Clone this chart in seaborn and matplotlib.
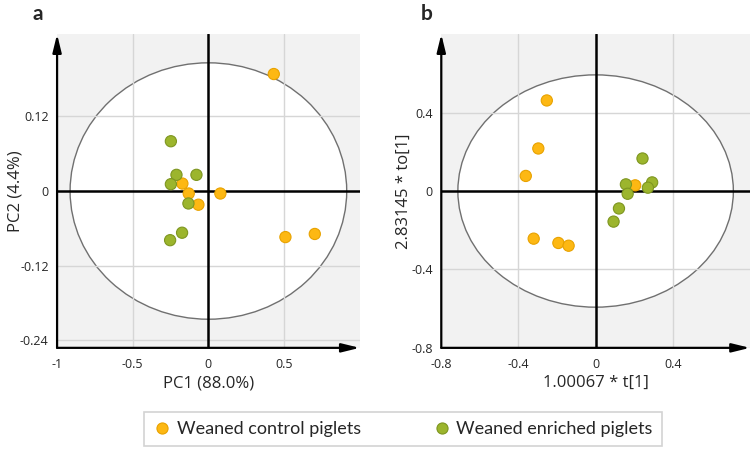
"""
PCA / OPLS-DA score plots for weaned piglets (panel a and b)
"""

import numpy as np
import pandas as pd
import matplotlib

matplotlib.use("Agg")
import matplotlib.pyplot as plt
import seaborn as sns
from matplotlib.patches import Ellipse
from matplotlib.lines import Line2D
from matplotlib.ticker import MultipleLocator

# Groups
GROUPS = ["Weaned control piglets", "Weaned enriched piglets"]
COLORS = {"Weaned control piglets": "#FDB813", "Weaned enriched piglets": "#9CB52D"}
EDGES = {"Weaned control piglets": "#E8A200", "Weaned enriched piglets": "#7E9620"}

# Panel a: PCA scores
pca_control_x = [0.432, -0.172, -0.130, -0.066, 0.079, 0.509, 0.703]
pca_control_y = [0.188, 0.012, -0.004, -0.022, -0.004, -0.074, -0.069]
pca_enriched_x = [-0.248, -0.211, -0.079, -0.248, -0.132, -0.174, -0.253]
pca_enriched_y = [0.080, 0.026, 0.026, 0.011, -0.020, -0.067, -0.079]

# Panel b: OPLS-DA scores
opls_control_x = [-0.253, -0.297, -0.362, -0.321, -0.193, -0.140, 0.205]
opls_control_y = [0.462, 0.217, 0.077, -0.243, -0.265, -0.279, 0.029]
opls_enriched_x = [0.243, 0.157, 0.293, 0.271, 0.166, 0.121, 0.093]
opls_enriched_y = [0.166, 0.034, 0.044, 0.017, -0.014, -0.089, -0.156]

# Hotelling T2 ellipse sizes (width, height)
ellipse_a = (1.828, 0.412)
ellipse_b = (1.428, 1.185)


def make_df(cx, cy, ex, ey):
    return pd.DataFrame(
        {
            "x": cx + ex,
            "y": cy + ey,
            "group": [GROUPS[0]] * len(cx) + [GROUPS[1]] * len(ex),
        }
    )


def draw_panel(ax, df, ell, xlim, ylim, xmaj, ymaj, xticks, yticks, xlabel, ylabel,
               ylab_x):
    ax.set_facecolor("#f2f2f2")
    ax.add_patch(
        Ellipse((0, 0), ell[0], ell[1], facecolor="white", edgecolor="#707070",
                lw=1.0, zorder=0.5)
    )
    for v in xticks:
        if v != 0 and v != xlim[0]:
            ax.axvline(v, color="#d6d6d6", lw=1.0, zorder=0.8)
    for v in yticks:
        if v != 0:
            ax.axhline(v, color="#d6d6d6", lw=1.0, zorder=0.8)
    ax.axhline(0, color="black", lw=1.8, zorder=1)
    ax.axvline(0, color="black", lw=1.8, zorder=1)

    sns.scatterplot(
        data=df, x="x", y="y", hue="group", palette=COLORS, s=65,
        edgecolor=[EDGES[g] for g in df["group"]], linewidth=0.8,
        legend=False, ax=ax, zorder=3,
    )

    ax.set_xlim(xlim)
    ax.set_ylim(ylim)
    ax.set_xticks(xticks)
    ax.set_yticks(yticks)
    ax.xaxis.set_minor_locator(MultipleLocator(xmaj / 2))
    ax.yaxis.set_minor_locator(MultipleLocator(ymaj / 2))
    ax.set_xticklabels([("%g" % t) for t in xticks])
    ax.set_yticklabels([("%g" % t) for t in yticks])
    ax.tick_params(axis="both", which="both", direction="out", length=3,
                   width=1, color="black", labelsize=9, pad=3)
    ax.tick_params(axis="x", which="both", length=4)
    ax.grid(False)
    for s in ax.spines.values():
        s.set_visible(False)

    arrow = dict(arrowstyle="-|>,head_length=0.9,head_width=0.22", lw=1.6,
                 color="black", shrinkA=0, shrinkB=0)
    ax.annotate("", xy=(0, 1.0), xytext=(0, 0), xycoords="axes fraction",
                arrowprops=arrow, annotation_clip=False)
    ax.annotate("", xy=(1.0, 0), xytext=(0, 0), xycoords="axes fraction",
                arrowprops=arrow, annotation_clip=False)

    ax.set_xlabel(xlabel, fontsize=12)
    ax.set_ylabel(ylabel, fontsize=12)
    ax.xaxis.label.set_va("center")
    ax.yaxis.label.set_va("center")
    ax.xaxis.set_label_coords(0.5, -0.113)
    ax.yaxis.set_label_coords(ylab_x, 0.5)


sns.set_theme(style="white")
plt.rcParams["font.family"] = ["Open Sans", "DejaVu Sans"]

fig = plt.figure(figsize=(7.51, 4.5), dpi=100)
ax_a = fig.add_axes([0.076, 0.227, 0.403, 0.697])
ax_b = fig.add_axes([0.5876, 0.227, 0.411, 0.697])

df_a = make_df(pca_control_x, pca_control_y, pca_enriched_x, pca_enriched_y)
df_b = make_df(opls_control_x, opls_control_y, opls_enriched_x, opls_enriched_y)

draw_panel(ax_a, df_a, ellipse_a, (-1.0, 1.0), (-0.252, 0.252), 0.5, 0.12,
           [-1, -0.5, 0, 0.5], [-0.24, -0.12, 0, 0.12],
           "PC1 (88.0%)", "PC2 (4.4%)", -0.137)
draw_panel(ax_b, df_b, ellipse_b, (-0.8, 0.8), (-0.8, 0.8), 0.4, 0.4,
           [-0.8, -0.4, 0, 0.4], [-0.8, -0.4, 0, 0.4],
           "1.00067 * t[1]", "2.83145 * to[1]", -0.12)

fig.text(38 / 751, 1 - 14 / 450, "a", fontsize=15, fontweight="bold",
         family="Lato", ha="center", va="center")
fig.text(427 / 751, 1 - 14 / 450, "b", fontsize=15, fontweight="bold",
         family="Lato", ha="center", va="center")

handles = [
    Line2D([], [], marker="o", ls="", markersize=8, markerfacecolor=COLORS[g],
           markeredgecolor=EDGES[g], markeredgewidth=0.8, label=g)
    for g in GROUPS
]
leg = fig.legend(
    handles=handles, loc="center", bbox_to_anchor=(403 / 751, 1 - 429 / 450),
    ncol=2, frameon=True, fancybox=False, columnspacing=4.0,
    handletextpad=0.3, handlelength=1.0, borderpad=0.5,
    prop={"family": "Lato", "size": 13},
)
leg.get_frame().set_edgecolor("#c8c8c8")
leg.get_frame().set_linewidth(1.2)

fig.savefig("out.png", dpi=100)
